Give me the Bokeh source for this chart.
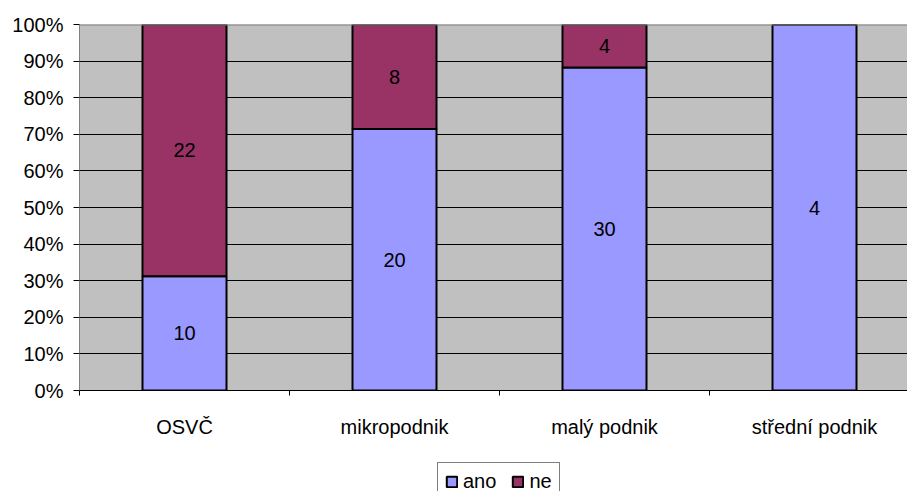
from bokeh.plotting import figure
from bokeh.layouts import column
from bokeh.models import (ColumnDataSource, Range1d, FixedTicker, NumeralTickFormatter,
                          Legend, LegendItem, Span, LabelSet)
from bokeh.core.properties import value
from bokeh.embed import file_html
from bokeh.resources import INLINE

# Survey answers by company size
categories = ["OSVČ", "mikropodnik", "malý podnik", "střední podnik"]
ano = [10, 20, 30, 4]
ne = [22, 8, 4, 0]
series = ["ano", "ne"]

FONT = "Liberation Sans"
COLORS = ["#9999FF", "#993366"]

xs = [i + 0.5 for i in range(len(categories))]
totals = [a + n for a, n in zip(ano, ne)]
ano_share = [a / t for a, t in zip(ano, totals)]
ne_share = [n / t for n, t in zip(ne, totals)]

src = ColumnDataSource(dict(x=xs, ano=ano_share, ne=ne_share))

p = figure(width=907, height=440, output_backend="svg", toolbar_location=None,
           x_range=Range1d(0, 828 / 210), y_range=Range1d(0, 1),
           min_border_left=79, min_border_top=24, min_border_bottom=49,
           min_border_right=0)
p.background_fill_color = "#C0C0C0"
p.border_fill_color = "white"
p.outline_line_color = None

# axes
p.yaxis.ticker = FixedTicker(ticks=[i / 10 for i in range(11)])
p.yaxis.formatter = NumeralTickFormatter(format="0%")
p.yaxis.axis_line_color = "#808080"
p.yaxis.major_tick_line_color = "black"
p.yaxis.major_tick_out = 6
p.yaxis.major_tick_in = 0
p.yaxis.minor_tick_line_color = None
p.yaxis.major_label_standoff = 10
p.yaxis.major_label_text_font = FONT
p.yaxis.major_label_text_font_size = "20px"
p.yaxis.major_label_text_color = "black"

p.xaxis.ticker = FixedTicker(ticks=xs, minor_ticks=list(range(len(categories))))
p.xaxis.major_label_overrides = {x: c for x, c in zip(xs, categories)}
p.xaxis.major_tick_line_color = None
p.xaxis.major_tick_out = 0
p.xaxis.minor_tick_line_color = "black"
p.xaxis.minor_tick_out = 5
p.xaxis.minor_tick_in = 0
p.xaxis.axis_line_color = "black"
p.xaxis.major_label_standoff = 20
p.xaxis.major_label_text_font = FONT
p.xaxis.major_label_text_font_size = "20px"
p.xaxis.major_label_text_color = "black"

# grid
p.xgrid.grid_line_color = None
p.ygrid.ticker = FixedTicker(ticks=[i / 10 for i in range(1, 10)])
p.ygrid.grid_line_color = "black"
p.ygrid.grid_line_width = 1
p.add_layout(Span(location=1, dimension="width", line_color="#808080", line_width=2))

# stacked bars
p.vbar_stack(series, x="x", width=0.4, source=src,
             fill_color=COLORS, line_color="black", line_width=2)

# value labels centred in each segment
lab_x, lab_y, lab_t = [], [], []
for x, a, n, sa, sn in zip(xs, ano, ne, ano_share, ne_share):
    if a > 0:
        lab_x.append(x); lab_y.append(sa / 2); lab_t.append(str(a))
    if n > 0:
        lab_x.append(x); lab_y.append(sa + sn / 2); lab_t.append(str(n))
lsrc = ColumnDataSource(dict(x=lab_x, y=lab_y, t=lab_t))
p.add_layout(LabelSet(x="x", y="y", text="t", source=lsrc, text_align="center",
                      text_baseline="middle", text_font=value(FONT),
                      text_font_size=value("20px"), text_color="black"))

# legend strip underneath the chart; its swatch renderers sit outside the visible range
lg = figure(width=907, height=51, output_backend="svg", toolbar_location=None,
            x_range=Range1d(0, 1), y_range=Range1d(0, 1),
            x_axis_location=None, y_axis_location=None,
            min_border=0, outline_line_color=None)
lg.grid.visible = False
lg.background_fill_color = "white"
swatches = [lg.quad(left=[-3], right=[-2], top=[-2], bottom=[-3], fill_color=c,
                    line_color="black", line_width=2)
            for c in COLORS]
legend = Legend(items=[LegendItem(label=s, renderers=[r]) for s, r in zip(series, swatches)],
                orientation="horizontal", location=(358, -10),
                border_line_color="black", border_line_width=1,
                background_fill_color="white", background_fill_alpha=1,
                label_text_font=FONT, label_text_font_size="20px",
                label_text_color="black",
                glyph_width=13, glyph_height=13, label_standoff=5,
                spacing=15, padding=7, margin=0, label_height=21)
lg.add_layout(legend, "center")

layout = column(p, lg, spacing=0)
open("out.html", "w").write(file_html(layout, INLINE))
